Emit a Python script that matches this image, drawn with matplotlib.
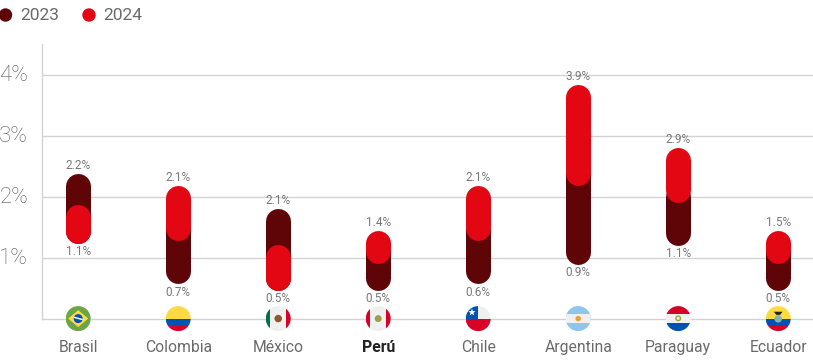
import matplotlib
matplotlib.use("Agg")
import matplotlib.pyplot as plt
from matplotlib.patches import Circle, Rectangle, Polygon, PathPatch
from matplotlib.path import Path
from matplotlib.transforms import Affine2D, ScaledTranslation

plt.rcParams['font.family'] = ['Roboto', 'DejaVu Sans']

countries = ["Brasil", "Colombia", "México", "Perú", "Chile", "Argentina", "Paraguay", "Ecuador"]
label_top = ["2.2%", "2.1%", "2.1%", "1.4%", "2.1%", "3.9%", "2.9%", "1.5%"]
label_low = ["1.1%", "0.7%", "0.5%", "0.5%", "0.6%", "0.9%", "1.1%", "0.5%"]
# drawn extents of the pills
low_2023 = [1.23, 0.57, 0.46, 0.46, 0.57, 0.89, 1.20, 0.46]
high_2023 = [2.38, 2.00, 1.80, 1.40, 2.00, 3.00, 2.20, 1.40]
low_2024 = [1.23, 1.28, 0.46, 0.90, 1.28, 2.18, 1.90, 0.90]
high_2024 = [1.87, 2.18, 1.21, 1.44, 2.18, 3.84, 2.80, 1.44]
y_ticks = [1, 2, 3, 4]
y_labels = ["1%", "2%", "3%", "4%"]

DARK = "#5F0508"
RED = "#E30613"
GRID = "#D2D2D2"

W, H = 813, 363
fig = plt.figure(figsize=(W / 100, H / 100), dpi=100)
ax = fig.add_axes([42 / W, (H - 318.6) / H, (W - 42) / W, 275 / H])
ax.set_xlim(-0.362, 7.348)
ax.set_ylim(0, 275 / 61)
for s in ("top", "right"):
    ax.spines[s].set_visible(False)
for s in ("left", "bottom"):
    ax.spines[s].set_color(GRID)
    ax.spines[s].set_linewidth(1)
ax.set_axisbelow(True)
ax.set_yticks(y_ticks, y_labels, fontsize=16, color="#5A5A5A", fontweight="light")
ax.yaxis.grid(True, color=GRID, linewidth=1)
ax.tick_params(axis="both", length=0)
ax.tick_params(axis="y", pad=10)
ax.set_xticks(range(len(countries)), countries, fontsize=11.3, color="#6A6A6A", fontweight="normal")
ax.tick_params(axis="x", pad=15.2)
for t in ax.yaxis.get_major_ticks():
    t.label1.set_transform(t.label1.get_transform() + ScaledTranslation(0, 1.0 / 72, fig.dpi_scale_trans))
for t, c in zip(ax.get_xticklabels(), countries):
    if c == "Perú":
        t.set_fontweight("bold")
        t.set_color("#222222")

PILL_PX = 25
r = (PILL_PX / 2) / 61
lw = PILL_PX * 0.72


def pill(x, lo, hi, color, z):
    ax.plot([x, x], [lo + r, hi - r], color=color, lw=lw, solid_capstyle="round",
            zorder=z, clip_on=False)


for i in range(len(countries)):
    pill(i, low_2023[i], high_2023[i], DARK, 3)
    pill(i, low_2024[i], high_2024[i], RED, 4)
    top = max(high_2023[i], high_2024[i])
    low = min(low_2023[i], low_2024[i])
    ax.annotate(label_top[i], (i, top), xytext=(0, 6.0), textcoords="offset points",
                ha="center", va="center", fontsize=8.5, color="#777777")
    ax.annotate(label_low[i], (i, low), xytext=(0, -6.0), textcoords="offset points",
                ha="center", va="center", fontsize=8.5, color="#777777")

# flag badges, centred on each category on the baseline
fig.canvas.draw()
BR, BY, BB = "#6DA544", "#FFDA44", "#0052B4"
FR, FW = "#D80027", "#F0F0F0"
SKY = "#8FC5EA"


def flag(i, draw):
    px = ax.transData.transform((i, 0))
    tr = Affine2D().scale(PILL_PX / 2).translate(*px)
    clip = Circle((0, 0), 1, transform=tr)

    def add(p):
        p.set_transform(tr)
        p.set_clip_path(clip)
        p.set_clip_on(True)
        p.set_zorder(6)
        p.set_linewidth(0)
        fig.add_artist(p)
    draw(add)


def rect(x0, y0, x1, y1, c):
    return Rectangle((x0, y0), x1 - x0, y1 - y0, facecolor=c)


def brazil(a):
    a(rect(-1, -1, 1, 1, BR))
    a(Polygon([(-.8, 0), (0, .68), (.8, 0), (0, -.68)], facecolor=BY))
    a(Circle((0, 0), .36, facecolor=BB))
    a(Polygon([(-.36, .05), (.36, -.14), (.36, -.02), (-.36, .17)], facecolor="white"))


def colombia(a):
    a(rect(-1, 0, 1, 1, BY))
    a(rect(-1, -.5, 1, 0, BB))
    a(rect(-1, -1, 1, -.5, FR))


def mexico(a):
    a(rect(-1, -1, 1, 1, FW))
    a(rect(-1, -1, -.62, 1, "#00704A"))
    a(rect(.62, -1, 1, 1, FR))
    a(Circle((0, 0), .3, facecolor="#8A5A2B"))


def peru(a):
    a(rect(-1, -1, 1, 1, FW))
    a(rect(-1, -1, -.62, 1, FR))
    a(rect(.62, -1, 1, 1, FR))
    a(Circle((0, 0), .28, facecolor="#9AA04A"))


def chile(a):
    a(rect(-1, -1, 1, 0, FR))
    a(rect(-1, 0, 1, 1, FW))
    a(rect(-1, 0, -.05, 1, BB))
    star = Path.unit_regular_star(5, 0.42)
    p = PathPatch(star.transformed(Affine2D().scale(.3).translate(-.5, .5)), facecolor="white")
    a(p)


def argentina(a):
    a(rect(-1, -1, 1, 1, SKY))
    a(rect(-1, -.36, 1, .36, FW))
    a(Circle((0, 0), .22, facecolor="#E8A13A"))


def paraguay(a):
    a(rect(-1, .36, 1, 1, FR))
    a(rect(-1, -.36, 1, .36, FW))
    a(rect(-1, -1, 1, -.36, BB))
    a(Circle((0, .02), .24, facecolor="#9BA83C"))
    a(Circle((0, .02), .12, facecolor=FW))


def ecuador(a):
    a(rect(-1, 0, 1, 1, BY))
    a(rect(-1, -.5, 1, 0, BB))
    a(rect(-1, -1, 1, -.5, FR))
    a(Circle((0, -.02), .3, facecolor="#7FB8A8"))
    a(Polygon([(-.35, .55), (.35, .55), (.15, .3), (-.15, .3)], facecolor="#222222"))


for i, d in enumerate([brazil, colombia, mexico, peru, chile, argentina, paraguay, ecuador]):
    flag(i, d)

# legend
for cx, col, lab, tx in [(5.5, DARK, "2023", 20), (89, RED, "2024", 103)]:
    fig.add_artist(Circle((cx, H - 15), 6.7, transform=None, facecolor=col, edgecolor="none"))
    fig.text(tx / W, (H - 15) / H, lab, fontsize=12.5, color="#6A6A6A", va="center", ha="left")

fig.savefig("out.png", dpi=100)
